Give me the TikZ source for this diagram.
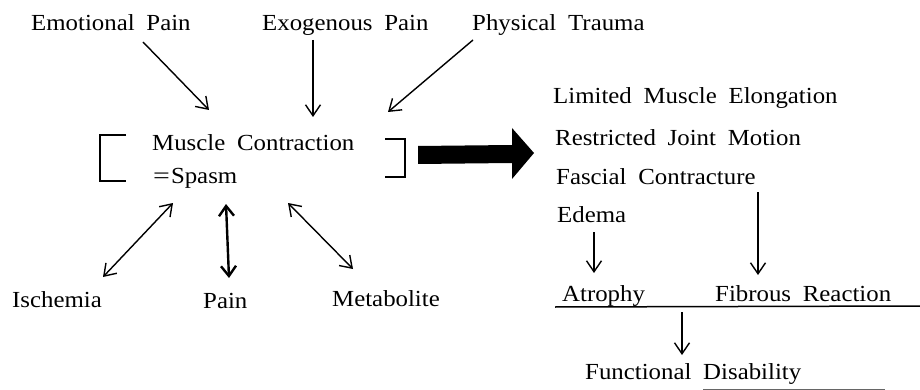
\documentclass[tikz,border=0pt]{standalone}
\usepackage{fontspec}
\setmainfont{Liberation Serif}[FakeStretch=1.08, WordSpace=1.9]
\usetikzlibrary{arrows.meta}
\begin{document}
\begin{tikzpicture}[x=1pt,y=-1pt,
  lbl/.style={anchor=base west,inner sep=0pt,font=\fontsize{23}{27}\selectfont},
  thinarrow/.style={line width=1.4pt,-{Straight Barb[length=11pt,width=15pt,line width=1.4pt]}},
  duoarrow/.style={line width=1.4pt,{Straight Barb[length=11pt,width=15pt,line width=1.4pt]}-{Straight Barb[length=11pt,width=15pt,line width=1.4pt]}},
  boldduo/.style={line width=2.4pt,{Straight Barb[length=10pt,width=15pt,line width=2.4pt]}-{Straight Barb[length=10pt,width=15pt,line width=2.4pt]}},
  bracket/.style={line width=1.4pt},
  rule/.style={line width=1.5pt}]
\useasboundingbox (0,0) rectangle (920,390);
\fill[white] (0,0) rectangle (920,390);

% top causes
\node[lbl] (emo) at (31,31) {Emotional Pain};
\node[lbl] (exo) at (262,31) {Exogenous Pain};
\node[lbl] (phy) at (472,31) {Physical Trauma};

% spasm
\node[lbl] (mc) at (152,151) {Muscle Contraction};
\node[lbl] (sp) at (153,183) {\scalebox{1.2}[1]{=}\kern1pt Spasm};

% bottom
\node[lbl] (isc) at (12,307) {Ischemia};
\node[lbl] (pain) at (203,308) {Pain};
\node[lbl] (met) at (332,306) {Metabolite};

% right list
\node[lbl] (lim) at (553,104) {Limited Muscle Elongation};
\node[lbl] (res) at (555,146) {Restricted Joint Motion};
\node[lbl] (fas) at (556,185) {Fascial Contracture};
\node[lbl] (ede) at (557,222) {Edema};
\node[lbl] (atr) at (562,301) {Atrophy};
\node[lbl] (fib) at (715,301) {Fibrous Reaction};
\node[lbl] (fun) at (585,379) {Functional Disability};

% connector end points
\coordinate (emoS) at (143,42);  \coordinate (emoE) at (209,110);
\coordinate (exoS) at (313,40);  \coordinate (exoE) at (313,117);
\coordinate (phyS) at (473,40);  \coordinate (phyE) at (388,112);
\coordinate (iscA) at (173,203); \coordinate (iscB) at (103,277);
\coordinate (painA) at (226,204); \coordinate (painB) at (229,278);
\coordinate (metA) at (288,203); \coordinate (metB) at (353,269);
\coordinate (edeS) at (594,232); \coordinate (edeE) at (594,273);
\coordinate (fasS) at (758,192); \coordinate (fasE) at (758,275);
\coordinate (ruleL) at (555,307); \coordinate (ruleR) at (920,306);
\coordinate (funS) at (682,312); \coordinate (funE) at (682,355);

\draw[thinarrow] (emoS) -- (emoE);
\draw[thinarrow] (exoS) -- (exoE);
\draw[thinarrow] (phyS) -- (phyE);
\draw[duoarrow] (iscA) -- (iscB);
\draw[boldduo] (painA) -- (painB);
\draw[duoarrow] (metA) -- (metB);
\draw[thinarrow] (edeS) -- (edeE);
\draw[thinarrow] (fasS) -- (fasE);
\draw[rule] (ruleL) -- (ruleR);
\draw[thinarrow] (funS) -- (funE);
\draw[line width=0.8pt,black!60] (703,389) -- (885,389);

% brackets
\draw[bracket] (126,135) -- (100,135) -- (100,181) -- (126,181);
\draw[bracket] (385,139) -- (405,139) -- (405,177) -- (385,177);

% big arrow
\fill (418,146) -- (512,145) -- (512,128) -- (534,153) -- (512,179) -- (512,163) -- (418,164) -- cycle;
\end{tikzpicture}
\end{document}
